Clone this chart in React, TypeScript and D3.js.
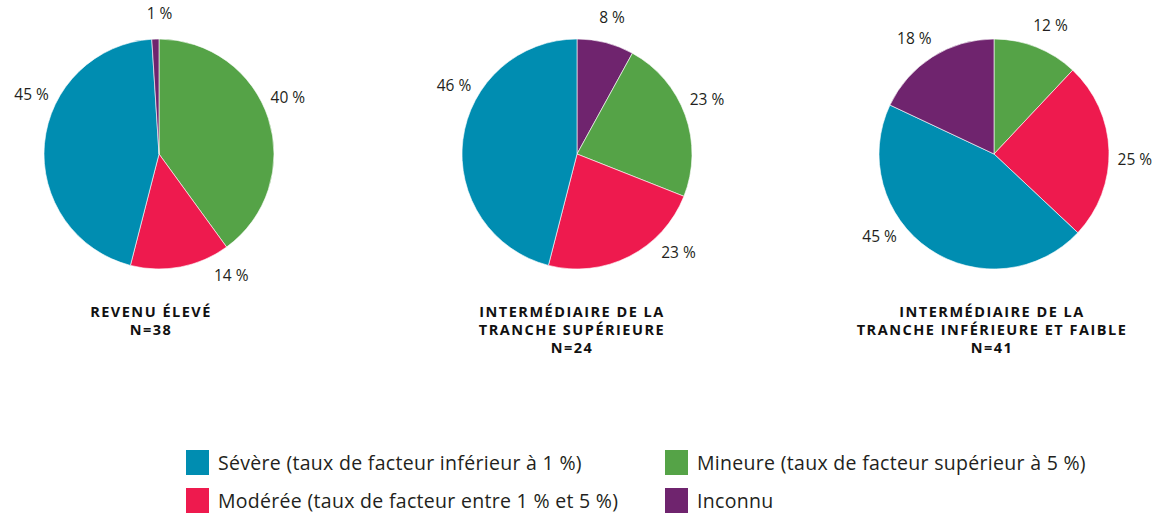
import React from "react";
import * as d3 from "d3";

// ---- data ----
const categories = ["Sévère", "Modérée", "Mineure", "Inconnu"];
const legendLabels = [
  "Sévère (taux de facteur inférieur à 1 %)",
  "Modérée (taux de facteur entre 1 % et 5 %)",
  "Mineure (taux de facteur supérieur à 5 %)",
  "Inconnu",
];
// slice order (clockwise from 12 o'clock) and values for each pie
const pie1Order = ["Mineure", "Modérée", "Sévère", "Inconnu"];
const pie1Values = [40, 14, 45, 1];
const pie2Order = ["Inconnu", "Mineure", "Modérée", "Sévère"];
const pie2Values = [8, 23, 23, 46];
const pie3Order = ["Mineure", "Modérée", "Sévère", "Inconnu"];
const pie3Values = [12, 25, 45, 18];
const pie1Title = ["REVENU ÉLEVÉ", "N=38"];
const pie2Title = ["INTERMÉDIAIRE DE LA", "TRANCHE SUPÉRIEURE", "N=24"];
const pie3Title = ["INTERMÉDIAIRE DE LA", "TRANCHE INFÉRIEURE ET FAIBLE", "N=41"];

// ---- styling / layout ----
const colors: Record<string, string> = {
  "Sévère": "#008db1",
  "Modérée": "#ee1a4e",
  "Mineure": "#55a347",
  "Inconnu": "#6f246e",
};
const labelNudges = [
  [-6, -20, 20, 2],
  [0, -3, -19, 22],
  [2, 4, 20, -2],
];
const W = 1161;
const H = 517;
const R = 115;
const LABEL_R = 141;
const pies = [
  { order: pie1Order, values: pie1Values, title: pie1Title, cx: 159, tx: 151 },
  { order: pie2Order, values: pie2Values, title: pie2Title, cx: 577, tx: 572 },
  { order: pie3Order, values: pie3Values, title: pie3Title, cx: 994, tx: 992 },
];
const CY = 154;
const TEXT = "#231f20";
const FONT = "'Open Sans', Lato, sans-serif";

export default function App() {
  const arc = d3.arc<d3.PieArcDatum<number>>().innerRadius(0).outerRadius(R);
  const pieGen = d3.pie<number>().sort(null).value((d) => d);
  return (
    <svg
      width={W}
      height={H}
      style={{ position: "absolute", left: 0, top: 0, background: "#fff" }}
      fontFamily={FONT}
    >
      {pies.map((p, pi) => {
        const arcs = pieGen(p.values);
        return (
          <g key={pi}>
            <g transform={`translate(${p.cx},${CY})`}>
              {arcs.map((a, i) => (
                <path
                  key={i}
                  d={arc(a) || ""}
                  fill={colors[p.order[i]]}
                  stroke="#fff"
                  strokeWidth={0.6}
                />
              ))}
              {arcs.map((a, i) => {
                const mid = (a.startAngle + a.endAngle) / 2 + (labelNudges[pi][i] * Math.PI) / 180;
                const x = Math.sin(mid) * LABEL_R;
                const y = -Math.cos(mid) * LABEL_R;
                return (
                  <text
                    key={"l" + i}
                    x={x}
                    y={y}
                    textAnchor="middle"
                    dominantBaseline="central"
                    fontSize={15.5}
                    fill={TEXT}
                  >
                    {`${p.values[i]} %`}
                  </text>
                );
              })}
            </g>
            {p.title.map((t, ti) => (
              <text
                key={"t" + ti}
                x={p.tx}
                y={317 + ti * 18}
                textAnchor="middle"
                fontSize={14.5}
                fontWeight={700}
                letterSpacing={1.5}
                fill="#111"
              >
                {t}
              </text>
            ))}
          </g>
        );
      })}
      {/* legend */}
      {legendLabels.map((lab, i) => {
        const col = i < 2 ? 0 : 1;
        const row = i % 2;
        const x = col === 0 ? 186 : 665;
        const y = 450 + row * 38;
        const cat = categories[i];
        return (
          <g key={"lg" + i}>
            <rect x={x} y={y} width={23} height={25} fill={colors[cat]} />
            <text x={x + 32} y={y + 20} fontSize={19.5} letterSpacing={0.3} fill={TEXT}>
              {lab}
            </text>
          </g>
        );
      })}
    </svg>
  );
}
